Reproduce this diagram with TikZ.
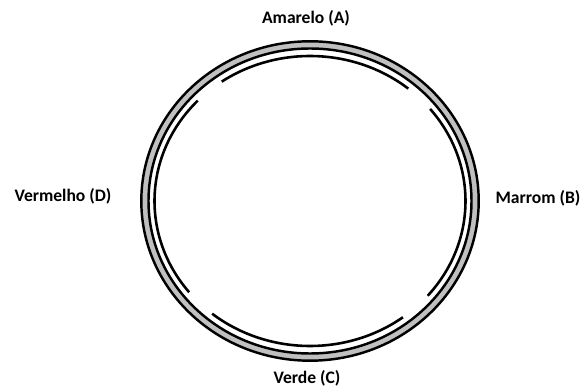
\documentclass[tikz,border=0pt]{standalone}
\usepackage{fontspec}
\setmainfont{Carlito}
\usepackage{xcolor}
\usepackage{tikz}
\usetikzlibrary{positioning, calc}

\definecolor{ringgray}{RGB}{192,192,192}

\tikzset{
    ringline/.style={black, line width=2.1pt},
    innerarc/.style={black, line width=2.2pt},
    colorlabel/.style={font=\fontsize{15}{18}\selectfont\bfseries, inner sep=0pt}
}

\begin{document}
\begin{tikzpicture}[x=0.03cm, y=0.03cm]
\useasboundingbox (0,0) rectangle (584,390);

% Centre of the ring
\coordinate (c) at (310,189);

% Outer ring: grey band between two black lines
\draw[ringgray, line width=6.5pt] (c) ellipse [x radius=165, y radius=156];
\draw[ringline] (c) ellipse [x radius=168.7, y radius=159.7];
\draw[ringline] (c) ellipse [x radius=161.5, y radius=152.5];

% Inner arcs
\draw[innerarc] ($(c)+(50.8:155.5 and 145)$) arc[start angle=50.8, end angle=124.6, x radius=155.5, y radius=145];
\draw[innerarc] ($(c)+(136.2:155.5 and 145)$) arc[start angle=136.2, end angle=219.0, x radius=155.5, y radius=145];
\draw[innerarc] ($(c)+(231.0:155.5 and 145)$) arc[start angle=231.0, end angle=306.7, x radius=155.5, y radius=145];
\draw[innerarc] ($(c)+(-40.8:155.5 and 145)$) arc[start angle=-40.8, end angle=39.4, x radius=155.5, y radius=145];

% Labels
\node[colorlabel] (amarelo) at (306,372) {Amarelo (A)};
\node[colorlabel] (marrom) at (538,192) {Marrom (B)};
\node[colorlabel] (verde) at (307,12) {Verde (C)};
\node[colorlabel] (vermelho) at (63,194) {Vermelho (D)};

\end{tikzpicture}
\end{document}
